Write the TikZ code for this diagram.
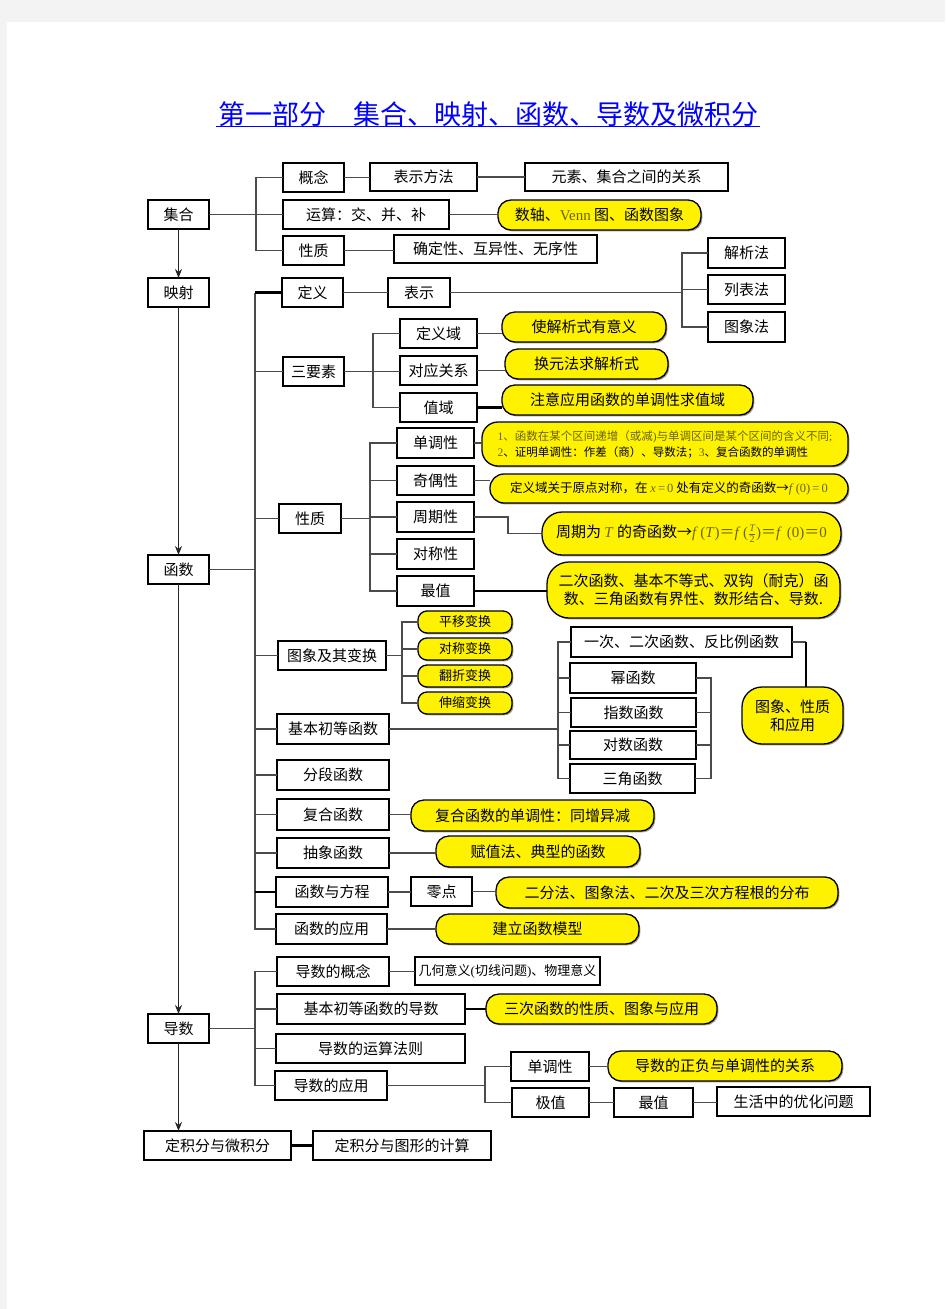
\documentclass[tikz,border=0pt]{standalone}
\usepackage{fontspec}
\setmainfont{Noto Sans CJK SC}
\newfontfamily\lat{Liberation Serif}
\usetikzlibrary{shadows,arrows.meta}
\definecolor{ol}{RGB}{105,100,0}
\definecolor{pagegray}{RGB}{243,243,243}
\definecolor{lnc}{RGB}{75,75,75}
\definecolor{ttl}{RGB}{0,0,255}
\newcommand\fs{\fontsize{15}{18}\selectfont}
\newcommand\fss{\fontsize{13}{15}\selectfont}
\newcommand\fsx{\fontsize{11.5}{16}\selectfont}
\newcommand\fsm{\fontsize{12.5}{15}\selectfont}
\newcommand\olv{\color{ol}}
\newcommand\Bx[7]{\node[#1,anchor=north west,minimum width={(#5)-(#3)},minimum height={(#6)-(#4)}] (#2) at (#3,#4) {#7};}
\begin{document}
\begin{tikzpicture}[x=1pt,y=-1pt,
  box/.style={draw=black,line width=1.1pt,fill=white,inner sep=0pt,outer sep=0pt,font=\fs,
     drop shadow={shadow xshift=1.4pt,shadow yshift=-1.4pt,fill=black!40,opacity=1}},
  ybox/.style={box,fill=yellow,rounded corners=13pt,line width=1.3pt},
  ysmall/.style={ybox,rounded corners=9pt,font=\fss},
  ln/.style={draw=lnc,line width=1.3pt},
  lnb/.style={draw=black,line width=1.9pt},
  tk/.style={draw=black,line width=2.5pt},
  arr/.style={draw=black!85,line width=1.6pt,-{Stealth[length=9pt,width=7pt]}}]
\useasboundingbox (0,0) rectangle (945,1309);
\fill[pagegray] (0,0) rectangle (945,1309);
\fill[white] (7,22) rectangle (945,1309);

% title
\node[font=\fontsize{27}{30}\selectfont,text=ttl,inner sep=0pt,anchor=base] (title) at (488,124)
  {第一部分\hspace{27pt}集合、映射、函数、导数及微积分};
\draw[ttl,line width=1.2pt] ([xshift=-2pt]title.south west) -- ([xshift=2pt]title.south east);

% main column
\Bx{box}{jihe}{148}{200}{209}{229}{集合}
\Bx{box}{yingshe}{148}{278}{209}{307}{映射}
\Bx{box}{hanshu}{148}{555}{209}{584}{函数}
\Bx{box}{daoshu}{148}{1014}{209}{1043}{导数}
\Bx{box}{djf}{144}{1131}{291}{1160}{定积分与微积分}
\Bx{box}{djft}{313}{1131}{491}{1160}{定积分与图形的计算}

% set branch
\Bx{box}{gn}{283}{163}{344}{192}{概念}
\Bx{box}{bsff}{370}{163}{477}{191}{表示方法}
\Bx{box}{ysgx}{525}{163}{728}{191}{元素、集合之间的关系}
\Bx{box}{ys}{283}{200}{449}{229}{运算：交、并、补}
\Bx{ybox}{venn}{498}{200}{701}{230}{数轴、{\lat\olv Venn} 图、函数图象}
\Bx{box}{xza}{283}{236}{344}{265}{性质}
\Bx{box}{qdx}{394}{235}{597}{263}{确定性、互异性、无序性}

% function: definition
\Bx{box}{dy}{282}{278}{343}{307}{定义}
\Bx{box}{bs}{388}{278}{450}{307}{表示}
\Bx{box}{jxf}{708}{238}{785}{268}{解析法}
\Bx{box}{lbf}{708}{275}{785}{304}{列表法}
\Bx{box}{txf}{708}{312}{785}{342}{图象法}

% three elements
\Bx{box}{sys}{283}{357}{344}{386}{三要素}
\Bx{box}{dyy}{400}{319}{477}{348}{定义域}
\Bx{box}{dygx}{400}{356}{477}{385}{对应关系}
\Bx{box}{zy}{400}{393}{477}{422}{值域}
\Bx{ybox}{ya}{502}{312}{666}{342}{使解析式有意义}
\Bx{ybox}{yb}{505}{349}{668}{379}{换元法求解析式}
\Bx{ybox}{yc}{502}{385}{753}{415}{注意应用函数的单调性求值域}

% properties
\Bx{box}{xzb}{279}{504}{341}{533}{性质}
\Bx{box}{ddx}{397}{428}{474}{458}{单调性}
\Bx{box}{jox}{397}{466}{474}{495}{奇偶性}
\Bx{box}{zqx}{397}{502}{474}{532}{周期性}
\Bx{box}{dcx}{397}{539}{474}{569}{对称性}
\Bx{box}{zz}{397}{576}{474}{606}{最值}
\Bx{ybox,rounded corners=16pt,align=left,font=\fsx}{yd}{482}{422}{848}{466}
  {{\olv{\lat 1}、函数在某个区间递增（或减{\lat )}与单调区间是某个区间的含义不同{\lat ;}}\\
   {\lat\olv 2}、证明单调性：作差（商）、导数法；{\lat\olv 3}、复合函数的单调性}
\Bx{ybox,rounded corners=14pt,font=\fsm}{yj}{490}{474}{848}{503}
  {定义域关于原点对称，在 {\olv\lat\textit{x}\,=\,0} 处有定义的奇函数→{\olv\lat\textit{f}\,(0)\,=\,0}}
\Bx{ybox,rounded corners=20pt}{yz}{542}{512}{841}{555}
  {周期为 {\olv\lat\textit{T}} 的奇函数→{\olv{\lat\textit{f}\,(\textit{T})}＝{\lat\textit{f}\,(}$\frac{\mbox{\fontsize{10}{10}\selectfont\lat\itshape T}}{\mbox{\fontsize{10}{10}\selectfont\lat 2}}${\lat )}＝{\lat\textit{f}\,\,(0)}＝{\lat 0}}}
\Bx{ybox,rounded corners=22pt,align=center}{yzz}{547}{562}{840}{618}
  {二次函数、基本不等式、双钩（耐克）函\\数、三角函数有界性、数形结合、导数.}

% graph transformations
\Bx{box}{txbh}{278}{641}{386}{670}{图象及其变换}
\Bx{ysmall}{py}{418}{611}{512}{633}{平移变换}
\Bx{ysmall}{dc}{418}{638}{512}{660}{对称变换}
\Bx{ysmall}{fz}{418}{665}{512}{687}{翻折变换}
\Bx{ysmall}{sx}{418}{692}{512}{714}{伸缩变换}

% elementary functions
\Bx{box}{jbcd}{277}{714}{389}{744}{基本初等函数}
\Bx{box}{ycf}{571}{627}{792}{657}{一次、二次函数、反比例函数}
\Bx{box}{mi}{570}{663}{696}{693}{幂函数}
\Bx{box}{zs}{571}{698}{696}{727}{指数函数}
\Bx{box}{dsh}{570}{731}{696}{759}{对数函数}
\Bx{box}{sj}{570}{764}{695}{793}{三角函数}
\Bx{ybox,rounded corners=20pt,align=center}{txxz}{742}{687}{843}{744}{图象、性质\\和应用}

\Bx{box}{fdhs}{277}{760}{389}{790}{分段函数}
\Bx{box}{fhhs}{277}{799}{389}{830}{复合函数}
\Bx{ybox}{yfh}{411}{800}{654}{831}{复合函数的单调性：同增异减}
\Bx{box}{cxhs}{277}{838}{389}{868}{抽象函数}
\Bx{ybox}{yfz}{436}{836}{640}{867}{赋值法、典型的函数}
\Bx{box}{hsfc}{276}{877}{388}{907}{函数与方程}
\Bx{box}{ld}{411}{877}{472}{906}{零点}
\Bx{ybox}{yef}{496}{877}{838}{908}{二分法、图象法、二次及三次方程根的分布}
\Bx{box}{hsyy}{276}{914}{387}{944}{函数的应用}
\Bx{ybox}{yjl}{436}{914}{639}{944}{建立函数模型}

% derivative branch
\Bx{box}{dsgn}{277}{957}{389}{986}{导数的概念}
\Bx{box,font=\fss}{jhyy}{415}{957}{600}{985}{几何意义{\lat(}切线问题{\lat)}、物理意义}
\Bx{box}{jbds}{277}{994}{465}{1024}{基本初等函数的导数}
\Bx{ybox}{ysc}{486}{994}{717}{1024}{三次函数的性质、图象与应用}
\Bx{box}{dsys}{276}{1034}{465}{1063}{导数的运算法则}
\Bx{box}{dsyy}{275}{1071}{387}{1100}{导数的应用}
\Bx{box}{ddxb}{511}{1052}{589}{1081}{单调性}
\Bx{ybox}{yzf}{608}{1051}{842}{1081}{导数的正负与单调性的关系}
\Bx{box}{jz}{512}{1088}{589}{1117}{极值}
\Bx{box}{zzb}{614}{1088}{693}{1117}{最值}
\Bx{box}{shzy}{717}{1087}{870}{1116}{生活中的优化问题}

% ---------------- connectors ----------------
\coordinate (busS) at (256,0);
\coordinate (busF) at (255,0);
\coordinate (busL) at (682,0);
\coordinate (busE) at (373,0);
\coordinate (busP) at (370,0);
\coordinate (busT) at (402,0);
\coordinate (busB) at (558,0);
\coordinate (busR) at (711,0);
\coordinate (busY) at (806,0);
\coordinate (busA) at (485,0);

% main arrows
\draw[arr] (jihe.south) -- (yingshe.north);
\draw[arr] (yingshe.south) -- (hanshu.north);
\draw[arr] (hanshu.south) -- (daoshu.north);
\draw[arr] (daoshu.south) -- (daoshu.south |- djf.north);
\draw[tk] (djf.east) -- (djf.east -| djft.west);

% set
\draw[ln] (gn.west) -| (busS |- xza.west) -- (xza.west);
\draw[ln] (jihe.east) -- (jihe.east -| ys.west);
\draw[ln] (gn.east) -- (gn.east -| bsff.west);
\draw[ln] (bsff.east) -- (bsff.east -| ysgx.west);
\draw[ln] (ys.east) -- (ys.east -| venn.west);
\draw[ln] (xza.east) -- (xza.east -| qdx.west);

% function bus
\draw[ln] (busF |- dy.west) -- (busF |- hsyy.west) -- (hsyy.west);
\draw[tk] (busF |- dy.west) -- (dy.west);
\draw[ln] (hanshu.east) -- (hanshu.east -| busF);
\foreach \n in {sys,xzb,txbh,jbcd,fdhs,fhhs,cxhs} \draw[ln] (\n.west) -- (\n.west -| busF);
\draw[lnb] (hsfc.west) -- (hsfc.west -| busF);

% definition
\draw[ln] (dy.east) -- (dy.east -| bs.west);
\draw[ln] (bs.east) -- (bs.east -| busL);
\draw[ln] (jxf.west) -| (busL |- txf.west) -- (txf.west);
\draw[ln] (lbf.west) -- (lbf.west -| busL);

% three elements
\draw[ln] (sys.east) -- (sys.east -| dygx.west);
\draw[ln] (dyy.west) -| (busE |- zy.west) -- (zy.west);
\draw[ln] (dyy.east) -- (dyy.east -| ya.west);
\draw[ln] (dygx.east) -- (dygx.east -| yb.west);
\draw[tk] (zy.east) -- (zy.east -| yc.west);

% properties
\draw[ln] (xzb.east) -- (xzb.east -| busP);
\draw[ln] (ddx.west) -| (busP |- zz.west) -- (zz.west);
\foreach \n in {jox,zqx,dcx} \draw[ln] (\n.west) -- (\n.west -| busP);
\draw[ln] (ddx.east) -- (ddx.east -| yd.west);
\draw[ln] (jox.east) -- (jox.east -| yj.west);
\draw[ln] (zqx.east) -- ++(34,0) |- (yz.west);
\draw[tk] (zz.east) -- (zz.east -| yzz.west);

% transformations
\draw[ln] (txbh.east) -- (txbh.east -| busT);
\draw[ln] (py.west) -| (busT |- sx.west) -- (sx.west);
\foreach \n in {dc,fz} \draw[ln] (\n.west) -- (\n.west -| busT);

% elementary functions
\draw[ln] (jbcd.east) -- (jbcd.east -| busB);
\draw[ln] (ycf.west) -| (busB |- sj.west) -- (sj.west);
\foreach \n in {mi,zs,dsh} \draw[ln] (\n.west) -- (\n.west -| busB);
\draw[ln] (mi.east) -| (busR |- sj.east) -- (sj.east);
\foreach \n in {zs,dsh} \draw[ln] (\n.east) -- (\n.east -| busR);
\draw[ln] (ycf.east) -- (ycf.east -| busY);
\draw[tk] (ycf.east -| busY) -- (busY |- txxz.north);

% other function items
\draw[ln] (fhhs.east) -- (fhhs.east -| yfh.west);
\draw[ln] (cxhs.east) -- (cxhs.east -| yfz.west);
\draw[ln] (hsfc.east) -- (hsfc.east -| ld.west);
\draw[ln] (ld.east) -- (ld.east -| yef.west);
\draw[ln] (hsyy.east) -- (hsyy.east -| yjl.west);

% derivative
\draw[ln] (dsgn.west) -| (busF |- dsyy.west) -- (dsyy.west);
\draw[ln] (daoshu.east) -- (daoshu.east -| busF);
\foreach \n in {jbds,dsys} \draw[ln] (\n.west) -- (\n.west -| busF);
\draw[ln] (dsgn.east) -- (dsgn.east -| jhyy.west);
\draw[tk] (jbds.east) -- (jbds.east -| ysc.west);
\draw[ln] (dsyy.east) -- (dsyy.east -| busA);
\draw[ln] (ddxb.west) -| (busA |- jz.west) -- (jz.west);
\draw[ln] (ddxb.east) -- (ddxb.east -| yzf.west);
\draw[ln] (jz.east) -- (jz.east -| zzb.west);
\draw[ln] (zzb.east) -- (zzb.east -| shzy.west);
\end{tikzpicture}
\end{document}
